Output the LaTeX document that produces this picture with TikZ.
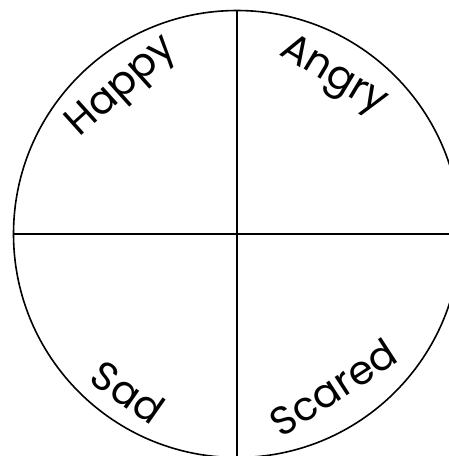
\documentclass[tikz,border=0pt]{standalone}
\usepackage{fontspec}
\setmainfont{Poppins}
\usetikzlibrary{calc}
\begin{document}
\begin{tikzpicture}[x=1pt,y=1pt,
  lbl/.style={font=\fontsize{40}{40}\selectfont, inner sep=0pt},
  ln/.style={line width=1.6pt}]
\useasboundingbox (0,0) rectangle (449,-456);
\coordinate (c) at (237,-234);
\draw[ln] (c) circle (223.5);
\coordinate (t) at (237,-10.5);
\coordinate (b) at (237,-457.5);
\coordinate (l) at (13.5,-234);
\coordinate (r) at (460.5,-234);
\draw[ln] (t) -- (b);
\draw[ln] (l) -- (r);
\node[lbl, rotate=42] (happy) at ($(c)+(128:186)$) {Happy};
\node[lbl, rotate=-31] (angry) at ($(c)+(58.6:184)$) {Angry};
\node[lbl, rotate=-35] (sad) at ($(c)+(-124.6:192)$) {Sad};
\node[lbl, rotate=33] (scared) at ($(c)+(-57.9:181)$) {Scared};
\end{tikzpicture}
\end{document}
